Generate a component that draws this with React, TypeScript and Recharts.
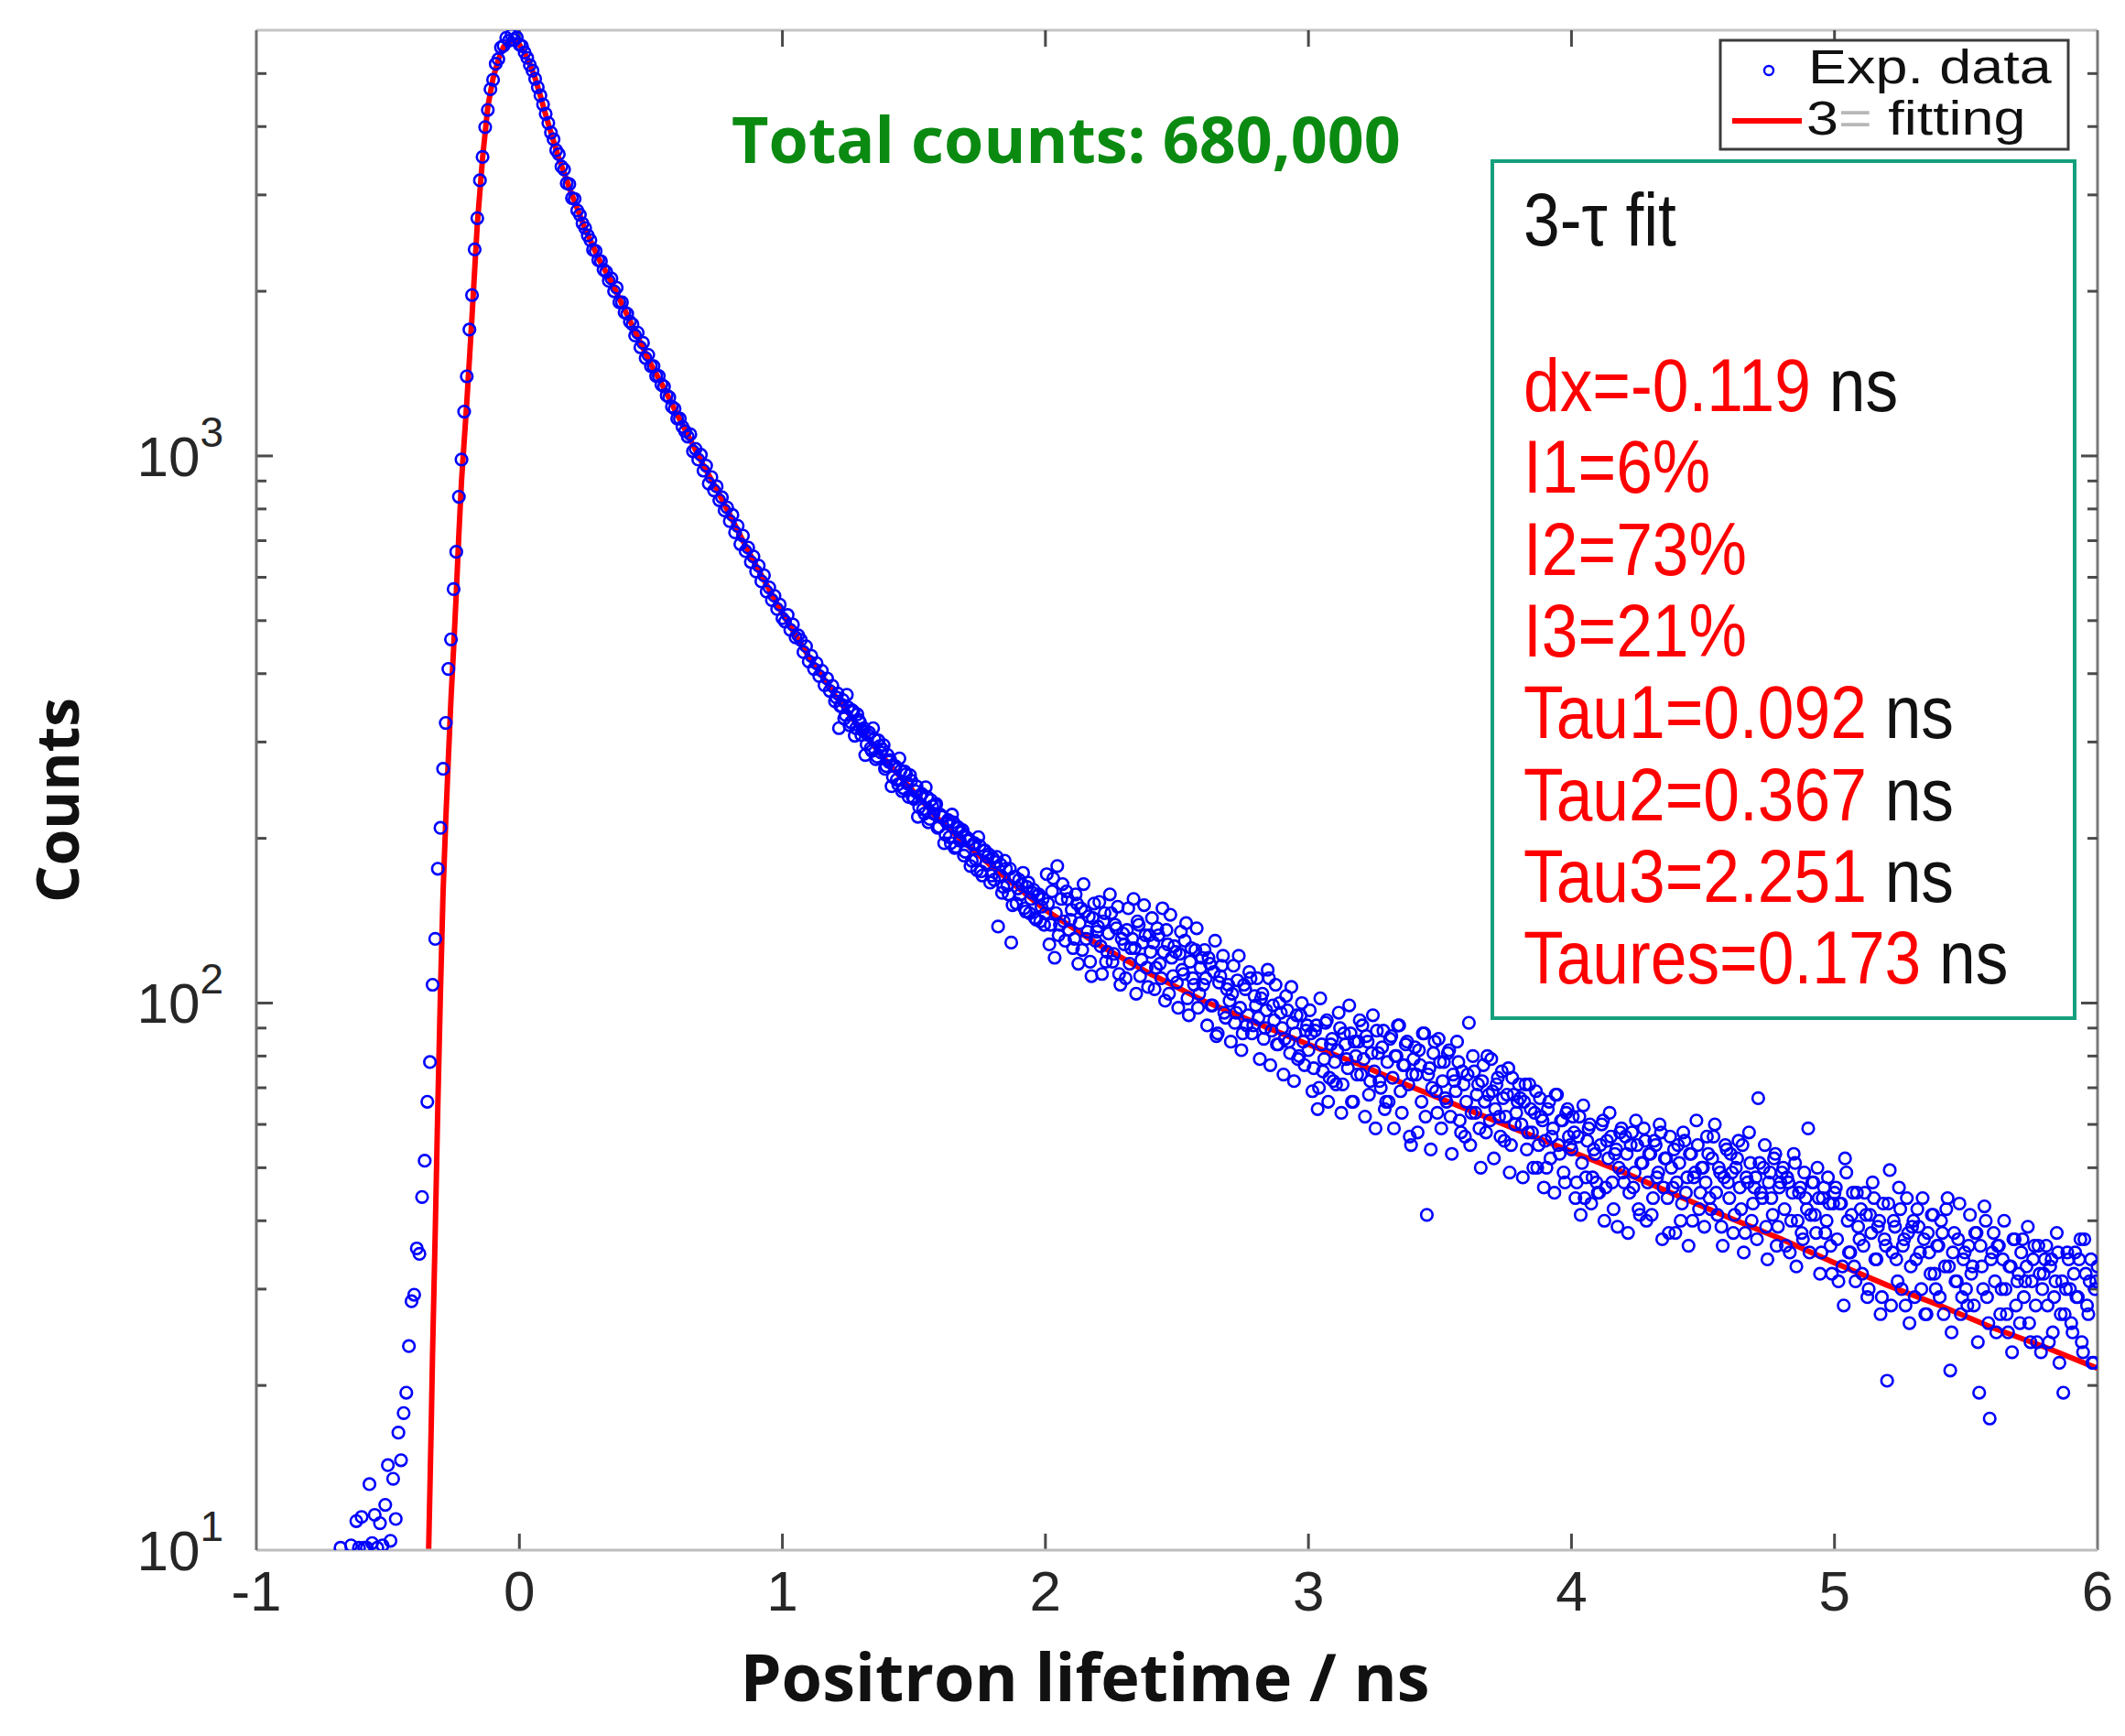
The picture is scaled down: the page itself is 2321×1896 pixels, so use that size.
import React from "react";
import {
  ComposedChart,
  Scatter,
  Line,
  XAxis,
  YAxis,
  ReferenceLine,
} from "recharts";

// ---- data ----
const CHANNEL_NS = 0.01;

// experimental spectrum, one value per channel (null = below the 10-count floor)
const expLowStart = -0.7;
const expLow: (number | null)[] = [
  null, null, 10.1, null, null, null, 10.2, null, 11.3, 10.1,
  11.5, 10.1, 10.1, 13.2, 10.3, 11.6, 10.1, 11.2, 10.2, 12.1,
  14.3, 10.4, 13.5, 11.4, 16.4,
];
const expRiseStart = -0.45;
const expRise = [
  14.6, 17.8, 19.4, 23.6, 28.5, 29.3, 35.6, 34.8, 44.2, 51.5,
  66, 78, 108, 131, 176, 209, 268, 325, 408, 462,
  571, 668, 842, 985, 1205, 1398, 1702, 1968, 2385, 2720,
  3190, 3520, 3990, 4290, 4680, 4870, 5210, 5310, 5580, 5620,
  5810, 5740, 5880, 5760, 5820, 5650,
];
const expPeakStart = 0.01;
const expPeak = [
  5610, 5460, 5340, 5180, 5060, 4890, 4720, 4560, 4390, 4220,
  4060, 3900, 3790, 3620, 3560, 3380, 3340, 3150, 3140, 2960,
  2950, 2810, 2760, 2660, 2610, 2530, 2480, 2380, 2370, 2280,
  2270, 2190, 2170, 2090, 2110, 2000, 2030, 1910, 1910, 1830,
  1820, 1760, 1740, 1660, 1680, 1580, 1610, 1510, 1530, 1460,
  1460, 1400, 1400, 1350, 1340, 1290, 1280, 1230, 1220, 1170,
  1170, 1130, 1110, 1085, 1095, 1020, 1030, 985, 1005, 940,
  960, 890, 915, 865, 880, 830, 840, 795, 805, 760,
  780, 725, 745, 690, 715, 670, 680, 640, 655, 615,
  630, 590, 605, 565, 575, 545, 555, 525, 535, 505,
];
const expSlowStart = 1.01;
const expSlow = [
  498, 512, 481, 492, 466, 470, 461, 438, 449, 421,
  431, 408, 418, 396, 405, 381, 392, 372, 380, 356,
  368, 349, 358, 336, 347, 326, 341, 318, 329, 309,
  318, 297, 312, 289, 304, 282, 295, 291, 268, 284,
  278, 259, 271, 251, 266, 247, 262, 238, 255, 236,
  249, 228, 241, 222, 238, 217, 229, 230, 209, 221,
  219, 203, 216, 196, 214, 193, 209, 205, 186, 201,
  199, 182, 196, 175, 194, 171, 190, 185, 166, 184,
  181, 138, 179, 163, 176, 158, 129, 170, 152, 168,
  165, 149, 163, 146, 159, 143, 157, 141, 155, 146,
];
const expTail2Start = 2.01;
const expTail2 = [
  152, 139, 169, 146, 133, 155, 141, 160, 136, 148,
  131, 152, 140, 125, 147, 135, 119, 143, 130, 138,
  127, 141, 119, 134, 146, 123, 137, 113, 131, 128,
  136, 118, 131, 126, 141, 112, 129, 133, 107, 124,
  129, 116, 133, 111, 124, 136, 104, 121, 127, 109,
  123, 115, 130, 102, 119, 111, 125, 98, 116, 108,
  111, 121, 99, 114, 87, 109, 117, 96, 106, 101,
  104, 92, 110, 98, 88, 106, 95, 111, 91, 99,
  94, 102, 86, 97, 111, 89, 93, 84, 100, 90,
  86, 97, 81, 92, 88, 79, 95, 85, 89, 82,
];
const expTail3Start = 3.01;
const expTail3 = [
  88, 76, 91, 70, 84, 79, 93, 73, 86, 78,
  82, 90, 71, 84, 76, 88, 66, 80, 85, 74,
  79, 87, 68, 81, 75, 89, 72, 83, 64, 78,
  86, 73, 80, 91, 69, 77, 84, 71, 55, 79,
  74, 82, 66, 88, 41, 76, 70, 85, 63, 78,
  72, 67, 81, 62, 74, 69, 78, 58, 71, 66,
  92, 63, 75, 68, 59, 72, 66, 80, 61, 69,
  64, 73, 57, 67, 62, 76, 55, 68, 63, 71,
  60, 66, 54, 71, 58, 63, 50, 67, 61, 56,
  64, 52, 59, 68, 55, 61, 49, 63, 57, 54,
];
const expTail4Start = 4.01;
const expTail4 = [
  58, 47, 62, 51, 44, 56, 60, 48, 53, 45,
  55, 61, 46, 52, 57, 42, 54, 50, 59, 47,
  53, 45, 58, 49, 55, 41, 51, 56, 47, 53,
  44, 55, 49, 58, 46, 52, 38, 50, 54, 47,
  51, 43, 56, 48, 53, 40, 49, 55, 45, 50,
  47, 53, 42, 57, 45, 50, 39, 48, 54, 44,
  49, 41, 52, 46, 55, 38, 47, 51, 43, 48,
  67, 45, 50, 39, 47, 44, 52, 36, 46, 49,
  42, 48, 35, 45, 51, 40, 46, 37, 44, 59,
  41, 47, 38, 44, 35, 46, 40, 43, 32, 45,
];
const expTail5Start = 5.01;
const expTail5 = [
  37, 43, 33, 52, 40, 35, 45, 31, 39, 42,
  36, 41, 30, 38, 44, 34, 40, 29, 37, 20.4,
  49.5, 35, 39, 31, 42, 36, 28, 38, 33, 40,
  34, 39, 30, 37, 27, 35, 41, 32, 36, 29,
  38, 33, 44, 21.3, 35, 31, 37, 27, 34, 30,
  36, 32, 28, 38, 19.4, 33, 42.5, 29, 17.4, 35,
  31, 36, 27, 34, 30, 25, 33, 37, 28, 32,
  35, 29, 33, 26, 31, 36, 24, 32, 30, 34,
  28, 33, 25, 31, 35, 27, 19.4, 30, 34, 26,
  32, 29, 34, 24, 37, 28, 31, 22, 30, 33,
];

// half-channel points of the dense part of the decay (x = start + i * 0.01)
const expHalfS_Start = 1.205;
const expHalfS = [
  362, 318, 349, 331, 366, 322, 343, 308, 337, 326,
  315, 284, 309, 292, 318, 279, 302, 287, 296, 271,
  276, 249, 271, 256, 280, 244, 265, 252, 261, 238,
  244, 219, 240, 226, 248, 214, 235, 222, 231, 210,
  219, 196, 214, 201, 221, 192, 210, 198, 207, 189,
  198, 178, 195, 183, 201, 174, 190, 180, 187, 171,
];
const expHalfA_Start = 1.805;
const expHalfA = [
  168, 185, 171, 159, 182, 164, 176, 151, 170, 162,
  158, 173, 147, 166, 155, 161, 142, 158, 150, 139,
];
const expHalfB_Start = 2.005;
const expHalfB = [
  172, 128, 160, 121, 178, 139, 165, 130, 155, 142,
  126, 158, 118, 149, 165, 131, 144, 112, 152, 135,
  153, 113, 146, 124, 158, 119, 139, 150, 108, 134,
  111, 149, 126, 155, 104, 139, 120, 151, 116, 133,
  143, 106, 137, 118, 149, 101, 128, 145, 112, 124,
  98, 135, 113, 140, 95, 126, 108, 137, 104, 121,
  125, 91, 118, 99, 130, 88, 112, 122, 94, 108,
  85, 117, 96, 122, 82, 108, 91, 114, 88, 103,
  111, 79, 104, 90, 115, 77, 99, 108, 84, 96,
  74, 103, 85, 107, 72, 95, 80, 100, 77, 91,
];
const expHalfC_Start = 3.005;
const expHalfC = [
  97, 69, 89, 64, 102, 75, 92, 66, 84, 72,
  71, 96, 63, 88, 79, 99, 66, 85, 74, 93,
  91, 62, 85, 72, 95, 59, 81, 70, 89, 66,
  66, 87, 59, 80, 91, 63, 77, 85, 57, 74,
  83, 58, 77, 88, 62, 74, 54, 81, 69, 86,
  59, 78, 66, 82, 53, 72, 85, 61, 75, 57,
  74, 55, 80, 63, 71, 50, 77, 58, 68, 79,
  52, 71, 62, 75, 56, 68, 49, 73, 60, 66,
  67, 48, 71, 58, 64, 50, 69, 55, 62, 46,
  50, 66, 57, 45, 68, 53, 61, 47, 64, 55,
];
const expHalfD_Start = 4.005;
const expHalfD = [
  62, 44, 57, 41, 65, 48, 59, 43, 54, 47,
  45, 60, 40, 56, 63, 47, 53, 39, 58, 49,
  57, 38, 55, 46, 61, 42, 51, 59, 40, 53,
  41, 56, 48, 60, 37, 52, 44, 57, 46, 38,
  55, 40, 58, 45, 36, 53, 48, 61, 42, 50,
  39, 57, 44, 52, 60, 41, 49, 36, 55, 47,
  53, 38, 50, 56, 42, 35, 48, 58, 40, 46,
  37, 51, 44, 55, 34, 49, 41, 53, 39, 47,
  50, 36, 47, 40, 53, 33, 45, 38, 49, 42,
  35, 47, 41, 50, 32, 44, 38, 48, 36, 43,
];
const expHalfE_Start = 5.005;
const expHalfE = [
  46, 31, 43, 28, 49, 35, 41, 33, 45, 37,
  32, 45, 29, 41, 47, 34, 39, 27, 43, 36,
  43, 28, 40, 34, 46, 30, 37, 44, 26, 39,
  29, 42, 35, 44, 27, 38, 32, 41, 30, 36,
  40, 27, 42, 33, 25, 38, 31, 43, 29, 35,
  28, 41, 33, 38, 24, 36, 30, 40, 26, 34,
  38, 25, 36, 30, 40, 27, 33, 23, 37, 31,
  26, 37, 31, 39, 24, 34, 28, 36, 23, 32,
  36, 24, 34, 29, 38, 22, 31, 27, 35, 30,
  25, 35, 29, 37, 23, 32, 27, 34, 22, 31,
];

// 3-tau fit curve
const fitTime = [
  -0.345, -0.34, -0.335, -0.33, -0.32, -0.31, -0.3, -0.29, -0.28, -0.27,
  -0.26, -0.25, -0.24, -0.23, -0.22, -0.2, -0.18, -0.16, -0.14, -0.12,
  -0.1, -0.08, -0.06, -0.04, -0.02, 0, 0.02, 0.04, 0.06, 0.08,
  0.1, 0.12, 0.15, 0.2, 0.25, 0.3, 0.35, 0.4, 0.45, 0.5,
  0.55, 0.6, 0.65, 0.7, 0.75, 0.8, 0.85, 0.9, 0.95, 1.0,
  1.1, 1.2, 1.3, 1.4, 1.5, 1.6, 1.7, 1.8, 1.9, 2.0,
  2.2, 2.4, 2.6, 2.8, 3.0, 3.2, 3.4, 3.6, 3.8, 4.0,
  4.2, 4.4, 4.6, 4.8, 5.0, 5.2, 5.4, 5.6, 5.8, 6.0,
];
const fitCounts = [
  10, 13, 17, 23, 38, 65, 105, 160, 215, 280,
  360, 445, 560, 720, 900, 1250, 1800, 2650, 3500, 4350,
  4900, 5300, 5600, 5720, 5750, 5650, 5450, 5200, 4900, 4550,
  4200, 3900, 3500, 3000, 2600, 2300, 2080, 1850, 1650, 1470,
  1330, 1190, 1070, 960, 870, 780, 700, 630, 570, 515,
  430, 365, 315, 275, 243, 215, 195, 177, 162, 148,
  128, 113, 101, 92, 84, 77, 70, 64, 58.5, 53.5,
  49, 44.5, 40.5, 37, 33.5, 30.5, 28, 25.5, 23.5, 21.5,
];

const xTicks = [-1, 0, 1, 2, 3, 4, 5, 6];
const yMajorTicks = [10, 100, 1000];
const yTickExponents = ["1", "2", "3"];
const yMinorTicks = [
  20, 30, 40, 50, 60, 70, 80, 90,
  200, 300, 400, 500, 600, 700, 800, 900,
  2000, 3000, 4000, 5000,
];

const fitParams: [string, string][] = [
  ["dx=-0.119", " ns"],
  ["I1=6%", ""],
  ["I2=73%", ""],
  ["I3=21%", ""],
  ["Tau1=0.092", " ns"],
  ["Tau2=0.367", " ns"],
  ["Tau3=2.251", " ns"],
  ["Taures=0.173", " ns"],
];

// ---- layout ----
const W = 2321;
const H = 1896;
const PLOT_LEFT = 280;
const PLOT_RIGHT = 2291;
const PLOT_TOP = 33;
const PLOT_BOTTOM = 1693;
const X_MIN = -1;
const X_MAX = 6;
const Y_MIN = 10;
const Y_MAX = 6000;

const ARIAL = "'Liberation Sans', Arial, sans-serif";
const BOLD = "'Open Sans', 'DejaVu Sans', sans-serif";

function channels(start: number, values: (number | null)[]) {
  const out: { t: number; counts: number }[] = [];
  values.forEach((v, i) => {
    if (v != null) out.push({ t: +(start + i * CHANNEL_NS).toFixed(3), counts: v });
  });
  return out;
}

const expData = [
  ...channels(expLowStart, expLow),
  ...channels(expRiseStart, expRise),
  ...channels(expPeakStart, expPeak),
  ...channels(expSlowStart, expSlow),
  ...channels(expTail2Start, expTail2),
  ...channels(expTail3Start, expTail3),
  ...channels(expTail4Start, expTail4),
  ...channels(expTail5Start, expTail5),
  ...channels(expHalfS_Start, expHalfS),
  ...channels(expHalfA_Start, expHalfA),
  ...channels(expHalfB_Start, expHalfB),
  ...channels(expHalfC_Start, expHalfC),
  ...channels(expHalfD_Start, expHalfD),
  ...channels(expHalfE_Start, expHalfE),
];
const fitData = fitTime.map((t, i) => ({ t, counts: fitCounts[i] }));

// tick lengths converted to axis units
const pxPerNs = (PLOT_RIGHT - PLOT_LEFT) / (X_MAX - X_MIN);
const pxPerDecade = (PLOT_BOTTOM - PLOT_TOP) / Math.log10(Y_MAX / Y_MIN);
const MAJOR_PX = 18;
const MINOR_PX = 11;
const majorDx = MAJOR_PX / pxPerNs;
const minorDx = MINOR_PX / pxPerNs;
const majorDy = Math.pow(10, MAJOR_PX / pxPerDecade);

const TICK_COLOR = "#4a4a4a";

function XTick(props: any) {
  const { x, y, payload } = props;
  return (
    <text x={x} y={y + 66} textAnchor="middle" fontFamily={ARIAL} fontSize={62} fill="#262626">
      {payload.value}
    </text>
  );
}

function YTick(props: any) {
  const { x, y, payload, index } = props;
  return (
    <text x={x - 36} y={y + 22} textAnchor="end" fontFamily={ARIAL} fontSize={62} fill="#262626">
      <tspan>10</tspan>
      <tspan dy={-32} fontSize={46}>
        {yTickExponents[index] ?? String(Math.round(Math.log10(payload.value)))}
      </tspan>
    </text>
  );
}

function OpenCircle(props: any) {
  const { cx, cy } = props;
  if (cx == null || cy == null) return null;
  return <circle cx={cx} cy={cy} r={6.3} fill="none" stroke="#0000ff" strokeWidth={2.6} />;
}

// narrow-looking text as in the figure's annotation box
function BoxLine({ y, children }: { y: number; children: React.ReactNode }) {
  return (
    <g transform={`translate(1664, ${y}) scale(0.87, 1)`}>
      <text x={0} y={0} fontFamily={ARIAL} fontSize={82} fill="#ff0000">
        {children}
      </text>
    </g>
  );
}

export default function App() {
  return (
    <div style={{ position: "absolute", left: 0, top: 0, width: W, height: H, background: "#fff" }}>
      <ComposedChart
        width={W}
        height={H}
        margin={{ top: PLOT_TOP, right: W - PLOT_RIGHT, left: 0, bottom: 0 }}
      >
        <XAxis
          dataKey="t"
          type="number"
          domain={[X_MIN, X_MAX]}
          ticks={xTicks}
          allowDataOverflow
          height={H - PLOT_BOTTOM}
          tickSize={0}
          tickMargin={0}
          tickLine={false}
          tick={<XTick />}
          axisLine={{ stroke: "#bdbdbd", strokeWidth: 3 }}
        />
        <YAxis
          dataKey="counts"
          type="number"
          scale="log"
          domain={[Y_MIN, Y_MAX]}
          ticks={yMajorTicks}
          allowDataOverflow
          width={PLOT_LEFT}
          tickSize={0}
          tickMargin={0}
          tickLine={false}
          tick={<YTick />}
          axisLine={{ stroke: "#707070", strokeWidth: 3 }}
        />

        {/* box: top and right edges */}
        <ReferenceLine y={Y_MAX} stroke="#c4c4c4" strokeWidth={3} ifOverflow="visible" />
        <ReferenceLine x={X_MAX} stroke="#7a7a7a" strokeWidth={3} ifOverflow="visible" />

        {/* inward x ticks, bottom and top */}
        {xTicks.slice(1, -1).map((t) => (
          <ReferenceLine
            key={`xb${t}`}
            segment={[{ x: t, y: Y_MIN }, { x: t, y: Y_MIN * majorDy }]}
            stroke={TICK_COLOR}
            strokeWidth={3}
            ifOverflow="visible"
          />
        ))}
        {xTicks.slice(1, -1).map((t) => (
          <ReferenceLine
            key={`xt${t}`}
            segment={[{ x: t, y: Y_MAX }, { x: t, y: Y_MAX / majorDy }]}
            stroke={TICK_COLOR}
            strokeWidth={3}
            ifOverflow="visible"
          />
        ))}
        {/* inward y ticks, left and right */}
        {yMajorTicks.slice(1).map((v) => (
          <ReferenceLine
            key={`yl${v}`}
            segment={[{ x: X_MIN, y: v }, { x: X_MIN + majorDx, y: v }]}
            stroke={TICK_COLOR}
            strokeWidth={3}
            ifOverflow="visible"
          />
        ))}
        {yMajorTicks.slice(1).map((v) => (
          <ReferenceLine
            key={`yr${v}`}
            segment={[{ x: X_MAX, y: v }, { x: X_MAX - majorDx, y: v }]}
            stroke={TICK_COLOR}
            strokeWidth={3}
            ifOverflow="visible"
          />
        ))}
        {yMinorTicks.map((v) => (
          <ReferenceLine
            key={`ml${v}`}
            segment={[{ x: X_MIN, y: v }, { x: X_MIN + minorDx, y: v }]}
            stroke={TICK_COLOR}
            strokeWidth={3}
            ifOverflow="visible"
          />
        ))}
        {yMinorTicks.map((v) => (
          <ReferenceLine
            key={`mr${v}`}
            segment={[{ x: X_MAX, y: v }, { x: X_MAX - minorDx, y: v }]}
            stroke={TICK_COLOR}
            strokeWidth={3}
            ifOverflow="visible"
          />
        ))}

        <Scatter
          name="Exp. data"
          data={expData}
          dataKey="counts"
          shape={<OpenCircle />}
          isAnimationActive={false}
        />
        <Line
          name="fitting"
          data={fitData}
          dataKey="counts"
          type="linear"
          stroke="#ff0000"
          strokeWidth={6}
          dot={false}
          activeDot={false}
          isAnimationActive={false}
        />
      </ComposedChart>

      <svg
        width={W}
        height={H}
        style={{ position: "absolute", left: 0, top: 0, pointerEvents: "none" }}
      >
        <text x={799} y={178} fontFamily={BOLD} fontWeight={700} fontSize={70} fill="#0b8a12">
          Total counts: 680,000
        </text>

        {/* legend */}
        <rect x={1879} y={44} width={380} height={119} fill="#fff" stroke="#3c3c3c" strokeWidth={3} />
        <circle cx={1932} cy={77} r={5} fill="none" stroke="#0000ff" strokeWidth={2.4} />
        <g transform="translate(1975, 91) scale(1.21, 1)">
          <text x={0} y={0} fontFamily={ARIAL} fontSize={52} fill="#111">
            Exp. data
          </text>
        </g>
        <line x1={1892} y1={132} x2={1968} y2={132} stroke="#ff0000" strokeWidth={6} />
        <g transform="translate(1973, 147) scale(1.21, 1)">
          <text x={0} y={0} fontFamily={ARIAL} fontSize={52} fill="#111">
            3<tspan fill="#b8b8b8">=</tspan> fitting
          </text>
        </g>

        {/* fit parameter box */}
        <rect x={1630} y={176} width={636} height={936} fill="#fff" stroke="#14a07c" strokeWidth={4} />
        <g transform="translate(1664, 268) scale(0.87, 1)">
          <text x={0} y={0} fontFamily={ARIAL} fontSize={82} fill="#111">
            3-τ fit
          </text>
        </g>
        {fitParams.map(([red, black], i) => (
          <BoxLine key={red} y={449 + i * 89.3}>
            {red}
            {black && <tspan fill="#111">{black}</tspan>}
          </BoxLine>
        ))}

        {/* axis titles */}
        <text
          x={1185}
          y={1858}
          textAnchor="middle"
          fontFamily={BOLD}
          fontWeight={700}
          fontSize={72}
          fill="#111"
        >
          Positron lifetime / ns
        </text>
        <text
          transform="translate(86, 874) rotate(-90)"
          textAnchor="middle"
          fontFamily={BOLD}
          fontWeight={700}
          fontSize={64}
          fill="#111"
        >
          Counts
        </text>
      </svg>
    </div>
  );
}
